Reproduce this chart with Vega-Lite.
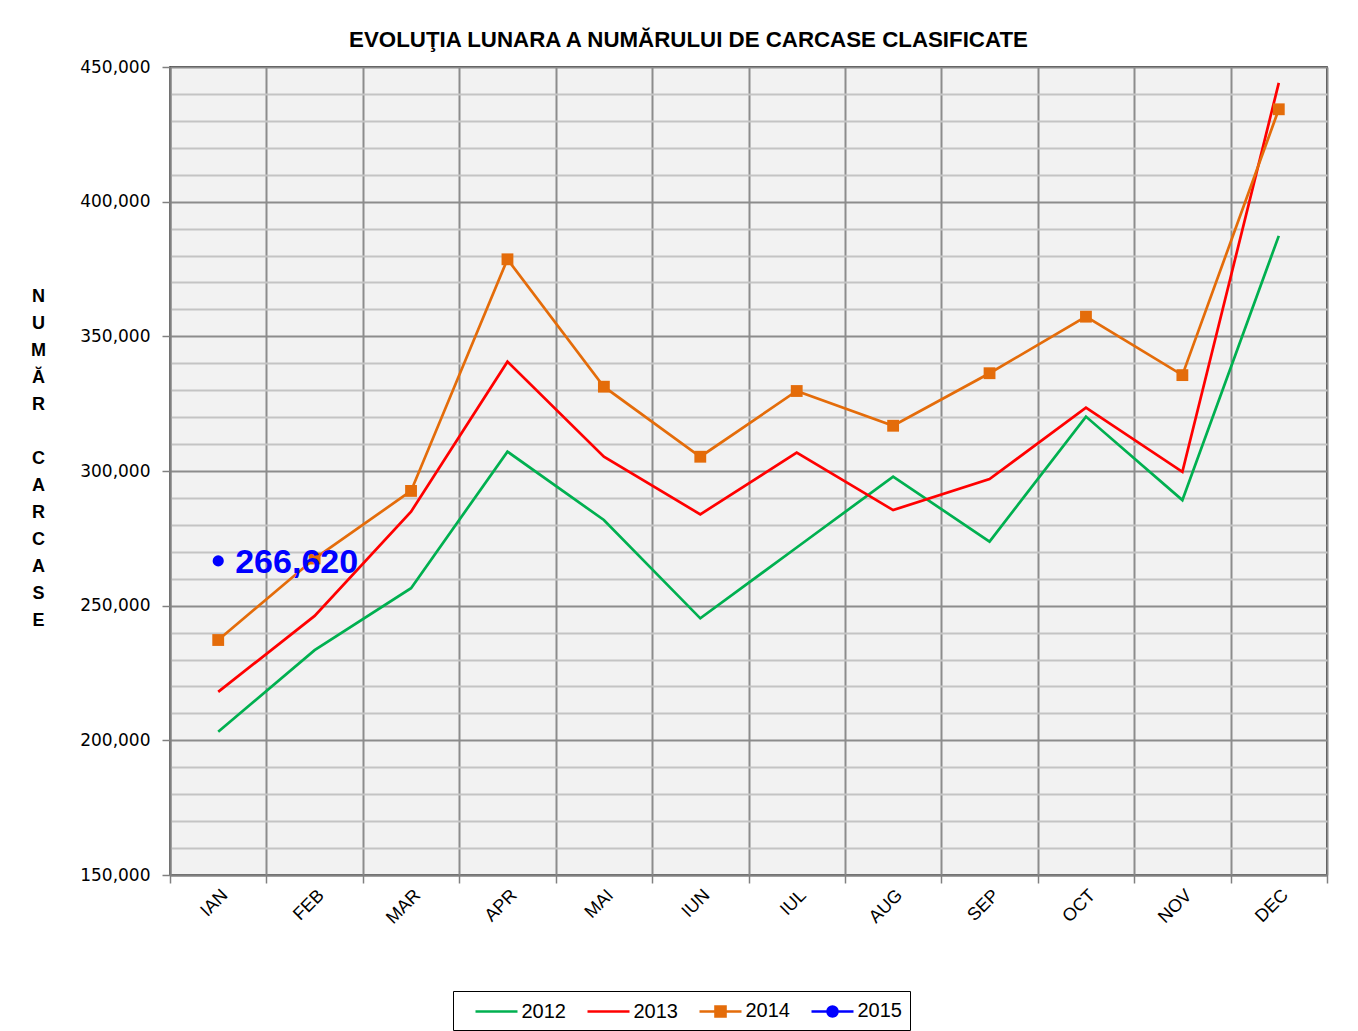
{
  "$schema": "https://vega.github.io/schema/vega-lite/v6.json",
  "autosize": {"type": "none"},
  "width": 1157,
  "height": 808,
  "padding": {"left": 170, "top": 67, "right": 31, "bottom": 156},
  "background": "white",
  "title": {
    "text": "EVOLUŢIA LUNARA A NUMĂRULUI DE CARCASE CLASIFICATE",
    "font": "Liberation Sans",
    "fontSize": 22.3,
    "fontWeight": "bold",
    "color": "black",
    "anchor": "middle",
    "dx": -60,
    "offset": 7
  },
  "config": {
    "view": {"fill": "#f2f2f2", "stroke": "black", "strokeWidth": 1.5}
  },
  "data": {
    "values": [
      {"month": "IAN", "year": "2012", "value": 203200},
      {"month": "FEB", "year": "2012", "value": 233500},
      {"month": "MAR", "year": "2012", "value": 256500},
      {"month": "APR", "year": "2012", "value": 307200},
      {"month": "MAI", "year": "2012", "value": 281800},
      {"month": "IUN", "year": "2012", "value": 245300},
      {"month": "IUL", "year": "2012", "value": 271600},
      {"month": "AUG", "year": "2012", "value": 297900},
      {"month": "SEP", "year": "2012", "value": 273800},
      {"month": "OCT", "year": "2012", "value": 320200},
      {"month": "NOV", "year": "2012", "value": 289200},
      {"month": "DEC", "year": "2012", "value": 387300},
      {"month": "IAN", "year": "2013", "value": 218000},
      {"month": "FEB", "year": "2013", "value": 246200},
      {"month": "MAR", "year": "2013", "value": 284900},
      {"month": "APR", "year": "2013", "value": 340600},
      {"month": "MAI", "year": "2013", "value": 305300},
      {"month": "IUN", "year": "2013", "value": 283900},
      {"month": "IUL", "year": "2013", "value": 306800},
      {"month": "AUG", "year": "2013", "value": 285500},
      {"month": "SEP", "year": "2013", "value": 297000},
      {"month": "OCT", "year": "2013", "value": 323500},
      {"month": "NOV", "year": "2013", "value": 299700},
      {"month": "DEC", "year": "2013", "value": 444100},
      {"month": "IAN", "year": "2014", "value": 237250},
      {"month": "FEB", "year": "2014", "value": 267500},
      {"month": "MAR", "year": "2014", "value": 292600},
      {"month": "APR", "year": "2014", "value": 378600},
      {"month": "MAI", "year": "2014", "value": 331300},
      {"month": "IUN", "year": "2014", "value": 305300},
      {"month": "IUL", "year": "2014", "value": 329700},
      {"month": "AUG", "year": "2014", "value": 316800},
      {"month": "SEP", "year": "2014", "value": 336300},
      {"month": "OCT", "year": "2014", "value": 357300},
      {"month": "NOV", "year": "2014", "value": 335600},
      {"month": "DEC", "year": "2014", "value": 434300},
      {"month": "IAN", "year": "2015", "value": 266620}
    ]
  },
  "encoding": {
    "x": {
      "field": "month",
      "type": "nominal",
      "sort": ["IAN", "FEB", "MAR", "APR", "MAI", "IUN", "IUL", "AUG", "SEP", "OCT", "NOV", "DEC"],
      "scale": {"type": "band", "paddingInner": 0, "paddingOuter": 0},
      "axis": {
        "title": null,
        "grid": true,
        "tickBand": "extent",
        "gridColor": "#8c8c8c",
        "gridWidth": 2,
        "labelAngle": -45,
        "labelFont": "Liberation Sans",
        "labelFontSize": 18,
        "labelColor": "black",
        "labelPadding": 3,
        "tickSize": 8,
        "tickColor": "#808080",
        "tickWidth": 1.5,
        "domainColor": "#808080",
        "domainWidth": 2
      }
    },
    "y": {
      "field": "value",
      "type": "quantitative",
      "scale": {"domain": [150000, 450000], "nice": false, "zero": false},
      "axis": {
        "values": [150000, 160000, 170000, 180000, 190000, 200000, 210000, 220000, 230000, 240000, 250000, 260000, 270000, 280000, 290000, 300000, 310000, 320000, 330000, 340000, 350000, 360000, 370000, 380000, 390000, 400000, 410000, 420000, 430000, 440000, 450000],
        "format": ",d",
        "labelExpr": "datum.value % 50000 === 0 ? datum.label : ''",
        "grid": true,
        "gridColor": {"condition": {"test": "datum.value % 50000 === 0", "value": "#8c8c8c"}, "value": "#c4c4c4"},
        "gridWidth": 2,
        "tickOpacity": {"condition": {"test": "datum.value % 50000 === 0", "value": 1}, "value": 0},
        "tickColor": "#808080",
        "tickSize": 8,
        "tickWidth": 1.5,
        "domainColor": "#808080",
        "domainWidth": 2,
        "labelFont": "DejaVu Sans",
        "labelFontSize": 17,
        "labelColor": "black",
        "labelPadding": 12,
        "title": ["N", "U", "M", "Ă", "R", "\u2800", "C", "A", "R", "C", "A", "S", "E"],
        "titleAngle": 0,
        "titleFont": "Liberation Sans",
        "titleFontWeight": "bold",
        "titleFontSize": 18,
        "titleLineHeight": 27,
        "titleColor": "black",
        "titleAlign": "center",
        "titleBaseline": "top",
        "titleX": -132,
        "titleY": 220
      }
    },
    "color": {
      "field": "year",
      "type": "nominal",
      "scale": {"domain": ["2012", "2013", "2014", "2015"], "range": ["#00b050", "#ff0000", "#e46c0a", "#0000ff"]},
      "legend": {
        "title": null,
        "orient": "none",
        "legendX": 283,
        "legendY": 924,
        "direction": "horizontal",
        "strokeColor": "black",
        "fillColor": "white",
        "padding": 8,
        "symbolSize": 441,
        "symbolOffset": 23.5,
        "symbolStrokeWidth": 2.5,
        "labelFont": "Liberation Sans",
        "labelFontSize": 20,
        "labelColor": "black",
        "labelOffset": 13,
        "columnPadding": 7,
        "encode": {
          "symbols": {
            "update": {
              "shape": {"signal": "datum.value == '2014' ? 'M-2,0H2M-0.48,-0.48H0.48V0.48H-0.48Z' : (datum.value == '2015' ? 'M-2,0H2M0.48,0A0.48,0.48,0,1,1,-0.48,0A0.48,0.48,0,1,1,0.48,0Z' : 'M-2,0H2')"},
              "fill": {"scale": "color", "field": "value"},
              "stroke": {"scale": "color", "field": "value"},
              "strokeWidth": {"value": 2.5},
              "opacity": {"value": 1}
            }
          }
        }
      }
    }
  },
  "layer": [
    {
      "mark": {"type": "line", "strokeWidth": 2.7}
    },
    {
      "transform": [{"filter": "datum.year == '2014'"}],
      "mark": {"type": "point", "shape": "square", "filled": true, "size": 140, "opacity": 1}
    },
    {
      "transform": [{"filter": "datum.year == '2015'"}],
      "mark": {"type": "circle", "size": 125, "opacity": 1}
    },
    {
      "transform": [{"filter": "datum.year == '2015'"}],
      "mark": {"type": "text", "align": "left", "baseline": "middle", "dx": 17, "dy": 2, "font": "Liberation Sans", "fontSize": 34, "fontWeight": "bold", "color": "#0000ff"},
      "encoding": {
        "text": {"field": "value", "type": "quantitative", "format": ","},
        "color": {"value": "#0000ff"}
      }
    }
  ]
}
